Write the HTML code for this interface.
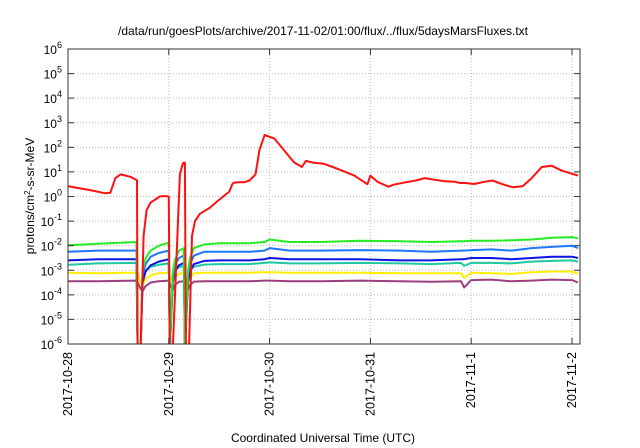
<!DOCTYPE html>
<html><head><meta charset="utf-8"><style>
body{margin:0;background:#fff}
svg{display:block;font-family:"Liberation Sans",sans-serif}
</style></head><body>
<svg id="c" width="640" height="448">
<text x="323" y="35" font-size="12" text-anchor="middle">/data/run/goesPlots/archive/2017-11-02/01:00/flux/../flux/5daysMarsFluxes.txt</text>
<text x="323" y="442" font-size="12" text-anchor="middle">Coordinated Universal Time (UTC)</text>
<text transform="translate(34,196) rotate(-90)" font-size="12" text-anchor="middle">protons/cm<tspan baseline-shift="super" font-size="8">2</tspan>-s-sr-MeV</text>
<g id="grid"></g><g id="series"></g><g id="axes"></g>
</svg>
<script>
const xTickLabels=["2017-10-28","2017-10-29","2017-10-30","2017-10-31","2017-11-1","2017-11-2"];
const yExponents=[-6,-5,-4,-3,-2,-1,0,1,2,3,4,5,6];
const redT=[0,0.22,0.37,0.42,0.47,0.52,0.62,0.685,0.69,0.72,0.75,0.78,0.82,0.91,0.96,1.0,1.01,1.04,1.11,1.14,1.16,1.17,1.2,1.23,1.26,1.31,1.41,1.48,1.6,1.63,1.64,1.68,1.75,1.8,1.86,1.9,1.95,2.05,2.24,2.32,2.36,2.44,2.54,2.64,2.74,2.84,2.97,3.0,3.07,3.18,3.23,3.33,3.45,3.54,3.64,3.74,3.84,3.89,3.94,4.03,4.13,4.21,4.31,4.41,4.51,4.6,4.7,4.8,4.9,5.06];
const redV=[0.42,0.26,0.13,0.15,0.75,0.9,0.8,0.66,-7,-7,-1.6,-0.55,-0.25,0,0.02,0,-7,-7,0.9,1.36,1.38,-7,-7,-1.6,-1.0,-0.7,-0.45,-0.2,0.2,0.5,0.55,0.58,0.58,0.65,0.9,1.9,2.5,2.35,1.4,1.2,1.45,1.37,1.33,1.18,1.02,0.85,0.5,0.85,0.6,0.4,0.48,0.56,0.65,0.75,0.68,0.62,0.6,0.55,0.55,0.51,0.6,0.65,0.5,0.38,0.42,0.75,1.2,1.25,1.05,0.85];
const t=[0,0.3,0.68,0.69,0.72,0.74,0.77,0.82,0.9,1.0,1.01,1.04,1.06,1.1,1.15,1.16,1.19,1.21,1.25,1.35,1.5,1.8,1.95,2.0,2.2,2.5,2.9,3.3,3.6,3.9,3.93,4.0,4.2,4.4,4.6,4.8,5.0,5.06];
const green=[-1.98,-1.92,-1.85,-7,-7,-3.0,-2.5,-2.2,-2.0,-1.88,-7,-3.1,-2.6,-2.2,-2.1,-7,-3.0,-2.5,-2.1,-1.95,-1.9,-1.9,-1.85,-1.75,-1.85,-1.85,-1.8,-1.82,-1.85,-1.82,-1.82,-1.8,-1.8,-1.78,-1.75,-1.68,-1.65,-1.7];
const lightBlue=[-2.25,-2.2,-2.2,-7,-7,-3.2,-2.75,-2.45,-2.3,-2.2,-7,-3.3,-2.8,-2.5,-2.4,-7,-3.2,-2.75,-2.4,-2.25,-2.25,-2.25,-2.2,-2.1,-2.2,-2.2,-2.18,-2.2,-2.25,-2.2,-2.2,-2.18,-2.15,-2.2,-2.1,-2.05,-2.0,-2.1];
const blue=[-2.6,-2.55,-2.55,-7,-7,-3.5,-3.05,-2.8,-2.65,-2.55,-7,-3.5,-3.05,-2.8,-2.7,-7,-3.5,-3.05,-2.75,-2.62,-2.6,-2.6,-2.55,-2.5,-2.55,-2.55,-2.55,-2.6,-2.6,-2.55,-2.55,-2.5,-2.5,-2.55,-2.5,-2.45,-2.45,-2.5];
const teal=[-2.78,-2.72,-2.7,-7,-7,-3.2,-3.0,-2.85,-2.78,-2.72,-7,-3.2,-3.0,-2.88,-2.82,-7,-3.2,-3.0,-2.85,-2.77,-2.75,-2.75,-2.7,-2.68,-2.72,-2.72,-2.7,-2.72,-2.75,-2.7,-2.82,-2.7,-2.7,-2.72,-2.65,-2.62,-2.6,-2.65];
const yellow=[-3.1,-3.12,-3.1,-3.1,-3.5,-3.6,-3.35,-3.2,-3.12,-3.1,-3.2,-3.5,-3.3,-3.15,-3.1,-3.2,-3.5,-3.3,-3.12,-3.1,-3.1,-3.1,-3.08,-3.08,-3.1,-3.1,-3.1,-3.12,-3.12,-3.12,-3.32,-3.1,-3.12,-3.15,-3.08,-3.05,-3.05,-3.15];
const purple=[-3.45,-3.45,-3.42,-3.5,-3.75,-3.85,-3.65,-3.5,-3.45,-3.42,-3.55,-3.8,-3.6,-3.47,-3.45,-3.55,-3.8,-3.6,-3.46,-3.45,-3.45,-3.45,-3.42,-3.42,-3.45,-3.45,-3.42,-3.45,-3.47,-3.45,-3.7,-3.4,-3.38,-3.45,-3.42,-3.38,-3.4,-3.5];
const L=68,R=580,T=49,B=344,DAY=100.8;
const xs=d=>L+d*DAY;
const ys=v=>{const c=Math.max(v,-6.2);return B-(c+6)*(B-T)/12;};
const NS="http://www.w3.org/2000/svg";
function mk(tag,attrs,parent){const e=document.createElementNS(NS,tag);for(const k in attrs)e.setAttribute(k,attrs[k]);parent.appendChild(e);return e;}
const grid=document.getElementById('grid'),axes=document.getElementById('axes'),ser=document.getElementById('series');
yExponents.forEach(ex=>{const y=ys(ex);
 if(ex>-6&&ex<6){const g=mk('line',{x1:L,x2:R,y1:y,y2:y,stroke:'#bbb','stroke-dasharray':'1,2'},grid);}
 const tk=mk('path',{d:`M${L},${y}h6M${R},${y}h-6`,stroke:'#333'},axes);
 const tx=mk('text',{x:L-6,y:y+5,'font-size':12,'text-anchor':'end'},axes);
 tx.textContent='10';const s=mk('tspan',{dy:-6,'font-size':9},tx);s.textContent=String(ex);});
xTickLabels.forEach((lab,i)=>{const x=xs(i);
 if(i>0){const g=mk('line',{x1:x,x2:x,y1:T,y2:B,stroke:'#bbb','stroke-dasharray':'1,2'},grid);}
 const tk=mk('path',{d:`M${x},${B}v-6M${x},${T}v6`,stroke:'#333'},axes);
 const tx=mk('text',{transform:`translate(${x+4},${B+8}) rotate(-90)`,'font-size':12.5,'text-anchor':'end'},axes);tx.textContent=lab;});
const fr=mk('rect',{x:L,y:T,width:R-L,height:B-T,fill:'none',stroke:'#333'},axes);

const cp=mk('clipPath',{id:'clip'},ser);mk('rect',{x:L,y:T,width:R-L,height:B-T},cp);
function line(tt,vv,col,name){const d=tt.map((d,i)=>(i?'L':'M')+xs(d).toFixed(1)+','+ys(vv[i]).toFixed(1)).join('');
 const p=mk('path',{d,fill:'none',stroke:col,'stroke-width':2,'clip-path':'url(#clip)','stroke-linejoin':'round'},ser);
 }
line(t,purple,'#9b3f7f','series-purple');
line(t,yellow,'#ffee00','series-yellow');
line(t,teal,'#1fc9a0','series-teal');
line(t,blue,'#0a14e6','series-blue');
line(t,lightBlue,'#1e78ff','series-light-blue');
line(t,green,'#22ee22','series-green');
line(redT,redV,'#ff1010','series-red');
</script>
</body></html>
